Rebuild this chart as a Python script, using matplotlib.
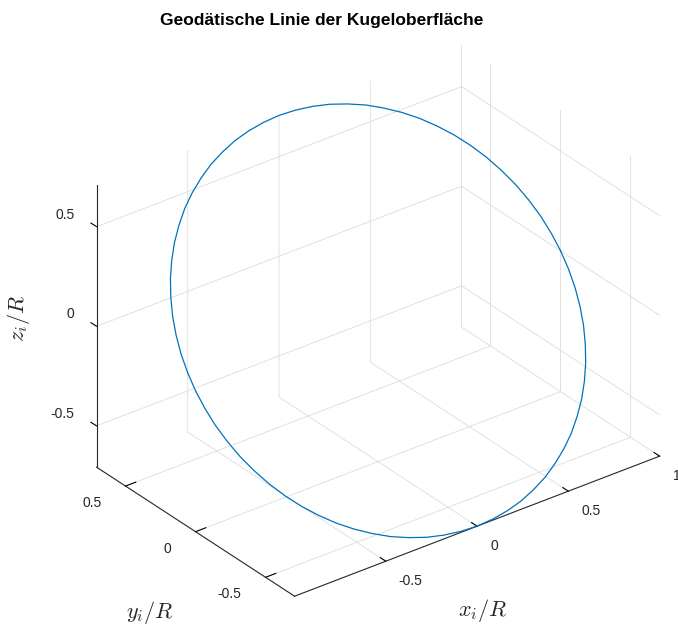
import matplotlib
matplotlib.use('Agg')
import matplotlib.pyplot as plt
from mpl_toolkits.mplot3d import proj3d
import numpy as np

plt.rcParams['font.family'] = ['Liberation Sans', 'DejaVu Sans']
plt.rcParams['mathtext.fontset'] = 'cm'

# great circle points (every 5 deg, closed)
x_pts = [1.000, 0.996, 0.985, 0.966, 0.940, 0.906, 0.866, 0.819, 0.766, 0.707,
         0.643, 0.574, 0.500, 0.423, 0.342, 0.259, 0.174, 0.087, 0.000,
         -0.087, -0.174, -0.259, -0.342, -0.423, -0.500, -0.574, -0.643, -0.707,
         -0.766, -0.819, -0.866, -0.906, -0.940, -0.966, -0.985, -0.996, -1.000,
         -0.996, -0.985, -0.966, -0.940, -0.906, -0.866, -0.819, -0.766, -0.707,
         -0.643, -0.574, -0.500, -0.423, -0.342, -0.259, -0.174, -0.087, 0.000,
         0.087, 0.174, 0.259, 0.342, 0.423, 0.500, 0.574, 0.643, 0.707,
         0.766, 0.819, 0.866, 0.906, 0.940, 0.966, 0.985, 0.996, 1.000]
y_pts = [0.000, 0.062, 0.123, 0.183, 0.242, 0.299, 0.354, 0.406, 0.455, 0.500,
         0.542, 0.579, 0.612, 0.641, 0.664, 0.683, 0.696, 0.704, 0.707,
         0.704, 0.696, 0.683, 0.664, 0.641, 0.612, 0.579, 0.542, 0.500,
         0.455, 0.406, 0.354, 0.299, 0.242, 0.183, 0.123, 0.062, 0.000,
         -0.062, -0.123, -0.183, -0.242, -0.299, -0.354, -0.406, -0.455, -0.500,
         -0.542, -0.579, -0.612, -0.641, -0.664, -0.683, -0.696, -0.704, -0.707,
         -0.704, -0.696, -0.683, -0.664, -0.641, -0.612, -0.579, -0.542, -0.500,
         -0.455, -0.406, -0.354, -0.299, -0.242, -0.183, -0.123, -0.062, 0.000]
z_pts = list(y_pts)

x_ticks = [-0.5, 0, 0.5, 1]
y_ticks = [-0.5, 0, 0.5]
z_ticks = [-0.5, 0, 0.5]
x_ticklabels = ['-0.5', '0', '0.5', '1']
y_ticklabels = ['-0.5', '0', '0.5']
z_ticklabels = ['-0.5', '0', '0.5']
x_lim = (-1.0, 1.0)
y_lim = (-0.7071, 0.7071)
z_lim = (-0.7071, 0.7071)

fig = plt.figure(figsize=(6.78, 6.26), dpi=100)
ax = fig.add_axes([0.046, 0.01, 1.0, 0.93], projection='3d')
ax.set_proj_type('ortho')
ax.view_init(elev=30, azim=-127.5)
ax.set_box_aspect((2.0, 1.4142, 1.4142), zoom=1.085)

ax.plot(x_pts, y_pts, z_pts, color='#0072BD', lw=0.9)

ax.set_xlim(*x_lim)
ax.set_ylim(*y_lim)
ax.set_zlim(*z_lim)
ax.set_xticks(x_ticks)
ax.set_yticks(y_ticks)
ax.set_zticks(z_ticks)

# z ticks point along y like in the reference
zinfo = {k: dict(v) for k, v in ax.zaxis._AXINFO.items()}
zinfo['z']['tickdir'] = 1
ax.zaxis._AXINFO = zinfo

for axis in (ax.xaxis, ax.yaxis, ax.zaxis):
    axis.set_pane_color((1, 1, 1, 0))
    axis.pane.set_edgecolor((1, 1, 1, 0))
    axis.line.set_color('#262626')
    axis.line.set_linewidth(0.8)
    axis._axinfo['grid']['color'] = '#dcdcdc'
    axis._axinfo['grid']['linewidth'] = 0.6
    axis._axinfo['tick']['inward_factor'] = 0.0
    axis._axinfo['tick']['outward_factor'] = 0.35
    axis._axinfo['tick']['color'] = '#262626'
    # built-in labels are replaced by the texts below
    axis.set_tick_params(labelleft=False, labelbottom=False, labelright=False, labeltop=False)
    axis.label.set_visible(False)
    axis.offsetText.set_visible(False)

M = ax.get_proj()


def tick_label(x, y, z, text, dx, dy, ha):
    # project the 3D tick point, then nudge the label by pixels
    px, py, _ = proj3d.proj_transform(x, y, z, M)
    ax.annotate(text, xy=(px, py), xycoords='data', xytext=(dx, -dy),
                textcoords='offset pixels', ha=ha, va='center', fontsize=10,
                color='#262626', annotation_clip=False)


# tick labels sit beside the ticks the way MATLAB puts them
for xt, lab in zip(x_ticks, x_ticklabels):
    tick_label(xt, y_lim[0], z_lim[0], lab, 13, 20, 'left')
for yt, lab in zip(y_ticks, y_ticklabels):
    tick_label(x_lim[0], yt, z_lim[0], lab, -24, 17, 'right')
for zt, lab in zip(z_ticks, z_ticklabels):
    tick_label(x_lim[0], y_lim[1], zt, lab, -22, -12, 'right')

# axis labels stay upright like in the reference, so place them on the figure
fig.text(483 / 678, 1 - 611 / 626, '$x_i/R$', fontsize=16, ha='center', va='center', color='#262626')
fig.text(150 / 678, 1 - 612 / 626, '$y_i/R$', fontsize=16, ha='center', va='center', color='#262626')
fig.text(19 / 678, 1 - 318 / 626, '$z_i/R$', fontsize=16, ha='center', va='center',
         rotation=90, color='#262626')

fig.text(322 / 678, 1 - 20 / 626, 'Geodätische Linie der Kugeloberfläche',
         ha='center', va='center', fontsize=12.5, fontweight='bold')

fig.savefig('out.png', dpi=100)
